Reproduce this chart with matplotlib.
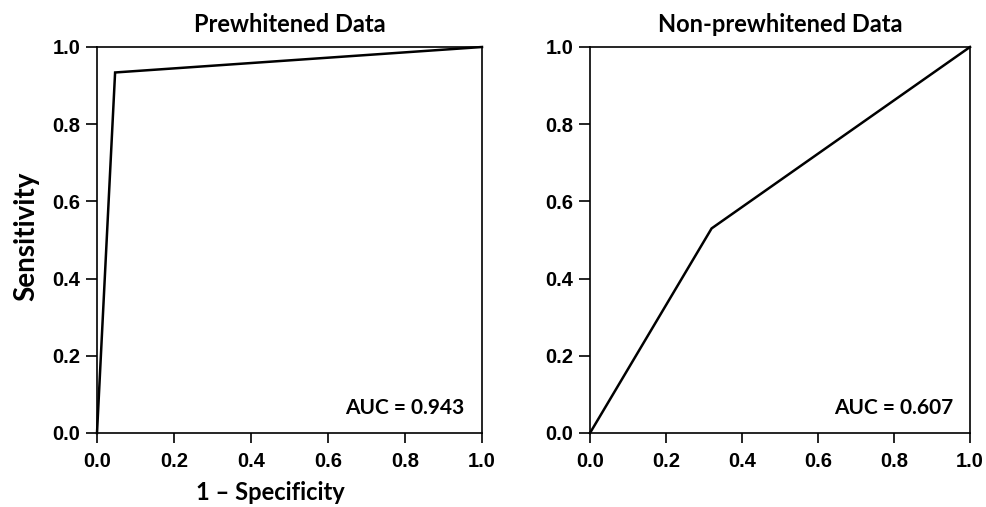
import matplotlib
matplotlib.use("Agg")
import matplotlib.pyplot as plt

titles = ["Prewhitened Data", "Non-prewhitened Data"]
fpr_pre = [0.0, 0.047, 1.0]
tpr_pre = [0.0, 0.934, 1.0]
fpr_non = [0.0, 0.32, 1.0]
tpr_non = [0.0, 0.53, 1.0]
auc_labels = ["AUC = 0.943", "AUC = 0.607"]
ticks = [0.0, 0.2, 0.4, 0.6, 0.8, 1.0]
tick_labels = ["0.0", "0.2", "0.4", "0.6", "0.8", "1.0"]

lab_font = ["Lato", "DejaVu Sans"]

fig = plt.figure(figsize=(9.87, 5.07), dpi=100)
ax1 = fig.add_axes([97/987, 74/507, 385/987, 386/507])
ax2 = fig.add_axes([590/987, 74/507, 380/987, 386/507])

for ax, fx, ty, title, auc in [(ax1, fpr_pre, tpr_pre, titles[0], auc_labels[0]),
                               (ax2, fpr_non, tpr_non, titles[1], auc_labels[1])]:
    ax.plot(fx, ty, color="black", lw=1.8, solid_joinstyle="miter", clip_on=False)
    ax.set_xlim(0, 1)
    ax.set_ylim(0, 1)
    ax.set_xticks(ticks)
    ax.set_yticks(ticks)
    ax.set_xticklabels(tick_labels)
    ax.set_yticklabels(tick_labels)
    for lab in ax.get_xticklabels() + ax.get_yticklabels():
        lab.set_fontfamily("Liberation Sans")
        lab.set_fontweight("bold")
        lab.set_fontsize(14.5)
    ax.tick_params(axis="x", direction="out", length=7, width=1.2, pad=7)
    ax.tick_params(axis="y", direction="out", length=8, width=1.2, pad=4)
    for s in ax.spines.values():
        s.set_linewidth(1.2)
    ax.set_title(title, family=lab_font, fontweight="bold", fontsize=17, pad=11)
    ax.text(0.955, 0.04, auc, transform=ax.transAxes, ha="right", va="bottom",
            family=lab_font, fontweight="bold", fontsize=15)

fig.text(26/987, 1 - 236/507, "Sensitivity", rotation=90, ha="center", va="center",
         family=lab_font, fontweight="bold", fontsize=20)
fig.text(270/987, 1 - 493/507, "1 \u2013 Specificity", ha="center", va="center",
         family=lab_font, fontweight="bold", fontsize=17)

fig.savefig("out.png", dpi=100)
